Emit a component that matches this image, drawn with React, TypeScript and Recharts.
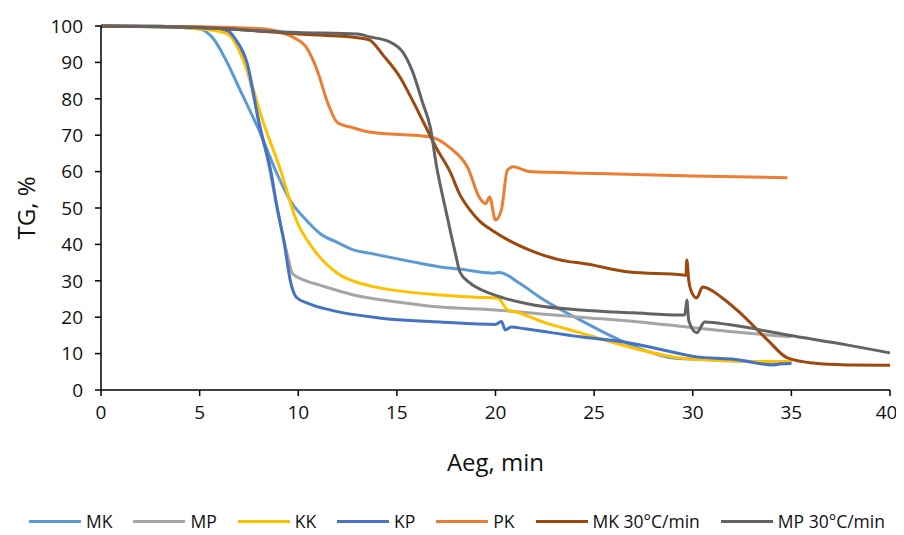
import React from "react"
import { LineChart, Line, XAxis, YAxis } from "recharts"

// x = minutes, y = TG %
const mkX = [0, 3, 5, 5.7, 6.3, 7, 8, 9, 9.6, 10.4, 11.1, 12, 12.8, 13.6, 15.8, 17.2, 18.5, 19.2, 19.9, 20.2, 21.2, 22.3, 24.3, 26.3, 27.5, 29, 31, 33, 35]
const mkY = [100, 99.8, 99.2, 96.5, 91, 83, 71.5, 58.5, 52, 46.7, 43, 40.5, 38.5, 37.6, 35.2, 33.8, 33, 32.4, 32.1, 32.3, 29.4, 25.3, 19.2, 13.7, 11, 8.8, 8.3, 7.8, 7.5]

const mpX = [0, 3, 5, 6, 6.5, 7, 7.5, 8, 8.5, 9, 9.5, 9.7, 10.3, 11.1, 12.8, 15, 17.2, 20, 22.5, 24.3, 27.3, 29.7, 32, 35]
const mpY = [100, 99.9, 99.6, 99.2, 98, 94, 86, 74, 62, 48, 36, 32, 30.2, 28.8, 26.1, 24.2, 22.8, 22, 20.8, 20, 18.7, 17.3, 16, 14.6]

const kkX = [0, 3, 5, 6, 6.5, 7.4, 8.2, 9.1, 9.9, 10.8, 12, 13.5, 15, 17.2, 19, 20.1, 20.4, 20.6, 21, 22.5, 24.3, 26.8, 29.4, 32, 35]
const kkY = [100, 99.8, 99.2, 98.5, 97.5, 88, 74, 60.4, 46.7, 38.5, 32, 28.8, 27.3, 26.1, 25.5, 25.3, 23.5, 22, 21.5, 18.5, 15.7, 11.8, 8.8, 8, 7.8]

const kpX = [0, 3, 5, 6, 6.5, 6.8, 7.4, 8.06, 8.6, 8.9, 9.3, 9.6, 9.9, 10.5, 11.6, 14.1, 17.2, 20, 20.3, 20.5, 20.8, 21.5, 24.3, 26.8, 28.5, 30.2, 32, 34.1, 34.5, 35]
const kpY = [100, 99.9, 99.7, 99.4, 98.5, 96.5, 90, 72, 60.4, 51, 40, 30, 25.5, 23.8, 22, 19.8, 18.7, 18, 18.8, 16.5, 17.3, 16.8, 14.6, 12.9, 11, 9.1, 8.5, 6.9, 7.2, 7.3]

const pkX = [0, 5, 8, 9, 9.7, 10.4, 10.95, 11.5, 12, 12.8, 13.6, 16.7, 17.7, 18.6, 19.2, 19.5, 19.7, 20, 20.3, 20.6, 20.9, 21.7, 25, 30, 34.8]
const pkY = [100, 99.8, 99.3, 98.5, 97, 94.2, 88, 78.8, 73.4, 72, 70.9, 69.5, 66.5, 61, 52.7, 51.2, 53, 46.7, 49.5, 60.4, 61.3, 60, 59.5, 58.8, 58.3]

const mk30X = [0, 5, 10, 13.1, 13.6, 14.3, 15.2, 15.8, 16.4, 17, 17.7, 18.2, 18.7, 19.2, 19.9, 21.7, 23.8, 24.3, 26.8, 29.5, 29.65, 29.7, 29.8, 29.9, 30.2, 30.5, 31.5, 32.4, 33.8, 34.8, 36.1, 37.8, 40]
const mk30Y = [100, 99.6, 97.8, 96.7, 96.2, 92, 85.6, 79.5, 73, 66.5, 59.9, 53.6, 49.5, 46.4, 43.6, 38.5, 35.2, 34.9, 32.4, 31.6, 31.5, 35.7, 30, 27.5, 25.3, 28.3, 25.3, 21.2, 13.7, 8.8, 7.4, 6.9, 6.8]

const mp30X = [0, 5, 10, 13, 13.64, 14.65, 15.3, 15.8, 16.3, 16.7, 17, 17.5, 17.95, 18.2, 18.7, 19.5, 20.4, 22, 24.3, 27, 29.4, 29.6, 29.7, 29.8, 30.2, 30.6, 31.9, 34.8, 37.8, 40]
const mp30Y = [100, 99.5, 98.2, 97.8, 97, 95.6, 92.8, 87.4, 79, 72, 61.8, 48.9, 37.9, 32.4, 29.4, 27, 25.3, 23.3, 22, 21.2, 20.6, 20.7, 24.7, 19, 15.7, 18.7, 17.9, 15.1, 12.4, 10.2]

const xTicks = [0, 5, 10, 15, 20, 25, 30, 35, 40]
const yTicks = [0, 10, 20, 30, 40, 50, 60, 70, 80, 90, 100]

const toPoints = (xs: number[], ys: number[]) => xs.map((x, i) => ({ x, y: ys[i] }))

const series = [
  { name: "MK", color: "#5B9BD5", data: toPoints(mkX, mkY) },
  { name: "MP", color: "#A5A5A5", data: toPoints(mpX, mpY) },
  { name: "KK", color: "#FFC000", data: toPoints(kkX, kkY) },
  { name: "KP", color: "#4472C4", data: toPoints(kpX, kpY) },
  { name: "PK", color: "#ED7D31", data: toPoints(pkX, pkY) },
  { name: "MK 30°C/min", color: "#9E480E", data: toPoints(mk30X, mk30Y) },
  { name: "MP 30°C/min", color: "#636363", data: toPoints(mp30X, mp30Y) },
]

const font = "'Open Sans', 'Noto Sans', sans-serif"
const tick = { fontSize: 19, fill: "#111", fontFamily: font }

function ChartLegend() {
  return (
    <div
      style={{
        position: "absolute",
        left: 21,
        top: 501,
        width: 856,
        display: "flex",
        justifyContent: "space-between",
        fontFamily: font,
        fontSize: 17.5,
        lineHeight: "24px",
        color: "#111",
        whiteSpace: "nowrap",
      }}
    >
      {series.map((s) => (
        <div key={s.name} style={{ display: "flex", alignItems: "center", gap: 5 }}>
          <span style={{ width: 52, height: 3, background: s.color, display: "inline-block" }} />
          <span>{s.name}</span>
        </div>
      ))}
    </div>
  )
}

export default function App() {
  return (
    <div style={{ position: "relative", width: 888, height: 527 }}>
      <LineChart width={888} height={527} margin={{ top: 18, right: 6, bottom: 60, left: 0 }}>
        <XAxis
          type="number"
          dataKey="x"
          domain={[0, 40]}
          ticks={xTicks}
          tick={tick}
          tickSize={6}
          tickMargin={10}
          height={85}
          axisLine={{ stroke: "#000", strokeWidth: 1.5 }}
          tickLine={{ stroke: "#000", strokeWidth: 1.5 }}
          allowDuplicatedCategory={false}
          label={{
            content: (p: any) => {
              const vb = p.viewBox
              return (
                <text x={vb.x + vb.width / 2} y={453} textAnchor="middle" dominantBaseline="central" fontSize={24} fontFamily={font} fill="#111">
                  Aeg, min
                </text>
              )
            },
          }}
        />
        <YAxis
          type="number"
          domain={[0, 100]}
          ticks={yTicks}
          tick={tick}
          tickSize={6}
          tickMargin={12}
          width={93}
          axisLine={{ stroke: "#000", strokeWidth: 1.5 }}
          tickLine={{ stroke: "#000", strokeWidth: 1.5 }}
          label={{
            content: (p: any) => {
              const vb = p.viewBox
              const cx = 17
              const cy = vb.y + vb.height / 2
              return (
                <text x={cx} y={cy} transform={`rotate(-90 ${cx} ${cy})`} textAnchor="middle" dominantBaseline="central" fontSize={24} fontFamily={font} fill="#111">
                  TG, %
                </text>
              )
            },
          }}
        />
        {series.map((s) => (
          <Line
            key={s.name}
            data={s.data}
            dataKey="y"
            name={s.name}
            type="monotone"
            stroke={s.color}
            strokeWidth={3}
            dot={false}
            activeDot={false}
            isAnimationActive={false}
          />
        ))}
      </LineChart>
      <ChartLegend />
    </div>
  )
}
